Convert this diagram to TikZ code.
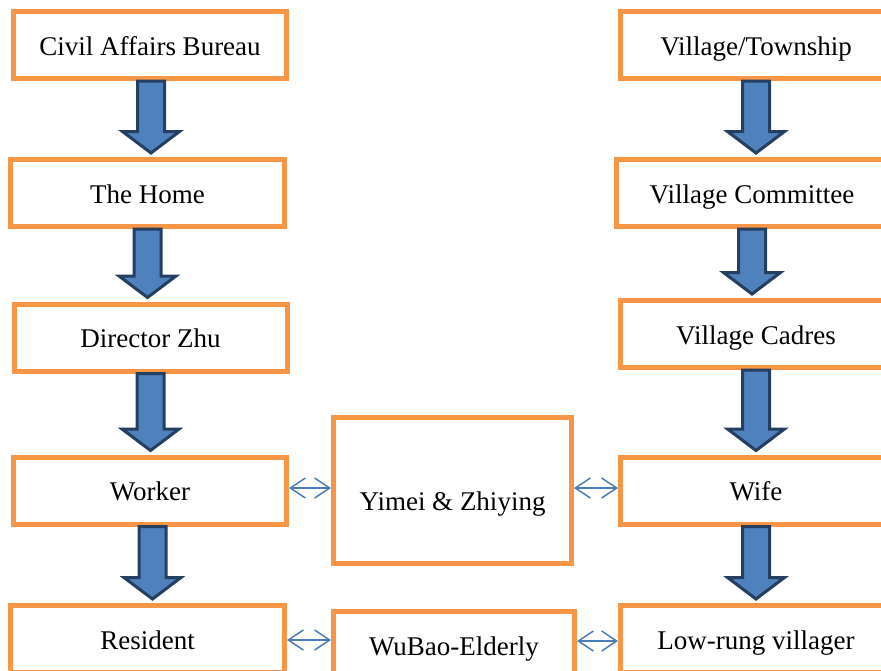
\documentclass[tikz,border=0pt]{standalone}
\usepackage{fontspec}
\setmainfont{Liberation Serif}
\usetikzlibrary{calc,arrows.meta}
\definecolor{boxline}{HTML}{F79646}
\definecolor{arrowfill}{HTML}{4F81BD}
\definecolor{arrowline}{HTML}{243F60}
\definecolor{linkline}{HTML}{4A7EBB}
\begin{document}
\begin{tikzpicture}[x=1pt,y=-1pt]
        % Styles
        \tikzstyle{box}=[draw=boxline,line width=5pt,fill=white,inner sep=0pt,minimum width=273pt,minimum height=67pt,
            font=\fontsize{27}{32}\selectfont,text height=20pt,text depth=0pt]
        \tikzstyle{block arrow}=[draw=arrowline,fill=arrowfill,line width=3pt,line join=miter,
            to path={let \p1=(\tikztostart), \p2=(\tikztotarget) in
            (\x1-13.5pt,\y1) -- (\x1+13.5pt,\y1) -- (\x1+13.5pt,\y2+21.5pt) -- (\x1+28.5pt,\y2+21.5pt)
            -- (\x1,\y2) -- (\x1-28.5pt,\y2+21.5pt) -- (\x1-13.5pt,\y2+21.5pt) -- cycle}]
        \tikzstyle{link}=[draw=linkline,line width=1.5pt,{Straight Barb[length=15pt,width=20pt]}-{Straight Barb[length=15pt,width=20pt]}]
        %The graphic
        \useasboundingbox (0,0) rectangle (881,670);
        \clip (0,0) rectangle (881,670);
        %left column
        \node[box] (civil) at (150,45) {Civil Affairs Bureau};
        \node[box,minimum width=274pt] (home) at (147.5,193) {The Home};
        \node[box] (director) at (150.5,337.5) {Director Zhu};
        \node[box] (worker) at (150,490.5) {Worker};
        \node[box,minimum width=274pt] (resident) at (147.5,639) {Resident};
        %right column
        \node[box,minimum width=271pt] (township) at (756,45) {Village/Township};
        \node[box,minimum width=271pt] (committee) at (752,193) {Village Committee};
        \node[box,minimum width=271pt] (cadres) at (756,334) {Village Cadres};
        \node[box,minimum width=271pt] (wife) at (756,490.5) {Wife};
        \node[box,minimum width=271pt] (lowrung) at (756,639) {Low-rung villager};
        %middle
        \node[box,minimum width=238pt,minimum height=146pt,text height=39pt] (yimei) at (452.5,490.5) {Yimei \& Zhiying};
        \node[box,minimum width=241pt] (wubao) at (454,645) {WuBao-Elderly};
        %arrows
        \draw[block arrow] ([xshift=1pt]civil.south) to ([yshift=4pt]home.north);
        \draw[block arrow] (home.south) to ([yshift=4pt]director.north);
        \draw[block arrow] (director.south) to ([yshift=4pt]worker.north);
        \draw[block arrow] ([xshift=2.5pt]worker.south) to ([yshift=4pt]resident.north);
        \draw[block arrow] (township.south) to ([yshift=4pt]committee.north);
        \draw[block arrow] (committee.south) to ([yshift=4pt]cadres.north);
        \draw[block arrow] (cadres.south) to ([yshift=4pt]wife.north);
        \draw[block arrow] (wife.south) to ([yshift=4pt]lowrung.north);
        %links
        \draw[link] ([yshift=2.5pt]worker.east) -- ([yshift=2.5pt]worker.east -| yimei.west);
        \draw[link] ([yshift=2.5pt]yimei.east) -- ([yshift=2.5pt]yimei.east -| wife.west);
        \draw[link] ([yshift=-1pt]resident.east) -- ([yshift=-1pt]resident.east -| wubao.west);
        \draw[link] ([yshift=-2pt]lowrung.west -| wubao.east) -- ([yshift=-2pt]lowrung.west);
\end{tikzpicture}
\end{document}
